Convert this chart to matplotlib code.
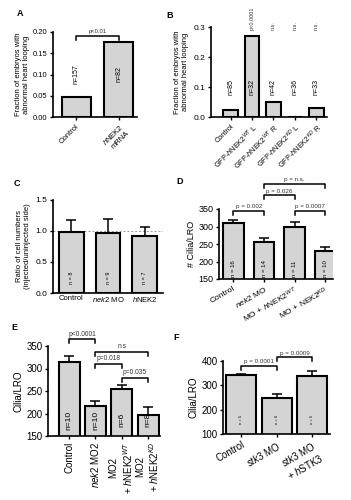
import numpy as np
import matplotlib.pyplot as plt

plt.rcParams['font.family'] = ['Liberation Sans', 'DejaVu Sans']
plt.rcParams['mathtext.fontset'] = 'custom'
plt.rcParams['mathtext.rm'] = 'Liberation Sans'
plt.rcParams['mathtext.it'] = 'Liberation Sans:italic'
plt.rcParams['mathtext.bf'] = 'Liberation Sans:bold'

# panel A
a_labels = ['Control', '$h$NEK2\nmRNA']
a_values = [0.046, 0.177]
a_n = ['n=157', 'n=82']
a_brackets = [(0, 1, 0.191, 'p<0.01')]

# panel B
b_labels = ['Control', 'GFP-$h$NEK2$^{WT}$ L', 'GFP-$h$NEK2$^{WT}$ R',
            'GFP-$h$NEK2$^{KD}$ L', 'GFP-$h$NEK2$^{KD}$ R']
b_values = [0.022, 0.270, 0.051, 0.0, 0.030]
b_n = ['n=85', 'n=32', 'n=42', 'n=36', 'n=33']
b_p = ['', 'p<0.0001', 'n.s.', 'n.s.', 'n.s.']

# panel C
c_labels = ['Control', '$nek2$ MO', '$h$NEK2']
c_values = [0.985, 0.967, 0.918]
c_err = [0.19, 0.22, 0.15]
c_n = ['n = 8', 'n = 9', 'n = 7']

# panel D
d_labels = ['Control', '$nek2$ MO', 'MO + $h$NEK2$^{WT}$', 'MO + NEK2$^{KD}$']
d_values = [310, 257, 300, 231]
d_err = [9, 10, 12, 11]
d_n = ['n = 16', 'n = 14', 'n = 11', 'n = 10']
d_brackets = [(0, 1, 345, 'p = 0.002'), (2, 3, 345, 'p = 0.0007'),
              (1, 2, 389, 'p = 0.026'), (1, 3, 422, 'p = n.s.')]

# panel E
e_labels = ['Control', '$nek2$ MO2', 'MO2\n+ $h$NEK2$^{WT}$', 'MO2\n+ $h$NEK2$^{KD}$']
e_values = [315, 216, 255, 196]
e_err = [13, 12, 8, 19]
e_n = ['n=10', 'n=10', 'n=6', 'n=8']
e_brackets = [(0, 1, 365, 'p<0.0001'), (1, 3, 337, 'n.s'),
              (1, 2, 310, 'p=0.018'), (2, 3, 280, 'p=0.035')]

# panel F
f_labels = ['Control', '$stk3$ MO', '$stk3$ MO\n+ $h$STK3']
f_values = [342, 249, 339]
f_err = [5, 17, 19]
f_n = ['n = 5', 'n = 6', 'n = 5']
f_brackets = [(0, 1, 380, 'p = 0.0001'), (1, 2, 416, 'p = 0.0009')]

BAR = '#d4d4d4'
W, H = 351, 500

fig = plt.figure(figsize=(W / 100, H / 100), dpi=100)


def px_axes(left, right, top, bottom):
    return fig.add_axes([left / W, 1 - bottom / H, (right - left) / W, (bottom - top) / H])


def style(ax, ts):
    for s in ['top', 'right']:
        ax.spines[s].set_visible(False)
    for s in ['left', 'bottom']:
        ax.spines[s].set_linewidth(1.2)
    ax.tick_params(axis='both', width=1.0, length=2.5, labelsize=ts, pad=1.5)


def bars(ax, vals, width, err=None):
    x = np.arange(len(vals))
    ax.bar(x, vals, width=width, color=BAR, edgecolor='black', linewidth=1.5, zorder=2)
    if err is not None:
        ax.errorbar(x, vals, yerr=[np.zeros(len(err)), err], fmt='none', ecolor='black',
                    elinewidth=1.1, capsize=3.5, capthick=1.1, zorder=1)
    return x


def brackets(ax, items, fs, drop_px=4):
    lo, hi = ax.get_ylim()
    hpx = ax.get_position().height * H
    drop = (hi - lo) / hpx * drop_px
    for i, j, y, txt in items:
        ax.plot([i, i, j, j], [y - drop, y, y, y - drop], color='black', lw=1.1,
                clip_on=False, zorder=3)
        ax.text((i + j) / 2, y + drop * 0.4, txt, ha='center', va='bottom', fontsize=fs,
                clip_on=False, color='#333333')


# ---- A
ax = px_axes(53, 137, 32, 117)
x = bars(ax, a_values, 0.68)
ax.set_xlim(-0.54, 1.43)
ax.set_ylim(0, 0.20)
ax.set_yticks([0.0, 0.05, 0.10, 0.15, 0.20])
ax.set_yticklabels(['0.00', '0.05', '0.10', '0.15', '0.20'])
style(ax, 5.5)
ax.set_xticks(x)
ax.set_xticklabels(a_labels, rotation=45, ha='right', rotation_mode='anchor', fontsize=5.5)
ax.set_ylabel('Fraction of embryos with\nabnormal heart looping', fontsize=5.5, labelpad=2)
for xi, t in zip(x, a_n):
    ax.text(xi, 0.10, t, rotation=90, ha='center', va='center', fontsize=5)
brackets(ax, a_brackets, 4.2)
fig.text(20 / W, 1 - 14 / H, 'A', fontsize=6.5, fontweight='bold', ha='center', va='center')

# ---- B
ax = px_axes(211, 327, 27, 117)
x = bars(ax, b_values, 0.69)
ax.set_xlim(-0.92, 4.5)
ax.set_ylim(0, 0.3)
ax.set_yticks([0.0, 0.1, 0.2, 0.3])
style(ax, 6)
ax.set_xticks(x)
ax.set_xticklabels(b_labels, rotation=45, ha='right', rotation_mode='anchor', fontsize=5.3)
ax.set_ylabel('Fraction of embryos with\nabnormal heart looping', fontsize=5.5, labelpad=3)
for xi, t in zip(x, b_n):
    ax.text(xi, 0.1, t, rotation=90, ha='center', va='center', fontsize=5)
for xi, t in zip(x, b_p):
    ax.text(xi, 0.29, t, rotation=90, ha='center', va='bottom', fontsize=4, clip_on=False,
            color='#333333')
fig.text(170 / W, 1 - 15 / H, 'B', fontsize=6.5, fontweight='bold', ha='center', va='center')

# ---- C
ax = px_axes(53, 163, 200, 293)
x = bars(ax, c_values, 0.68, c_err)
ax.axhline(1.0, color='#999999', lw=0.7, ls=(0, (2, 2)), zorder=0)
ax.set_xlim(-0.5, 2.5)
ax.set_ylim(0, 1.5)
ax.set_yticks([0.0, 0.5, 1.0, 1.5])
style(ax, 6)
ax.set_xticks(x)
ax.set_xticklabels(c_labels, fontsize=5.5)
ax.tick_params(axis='x', length=0)
ax.set_ylabel('Ratio of cell numbers\n(injected/uninjected side)', fontsize=5.5, labelpad=3)
for xi, t in zip(x, c_n):
    ax.text(xi, 0.25, t, rotation=90, ha='center', va='center', fontsize=4)
fig.text(17 / W, 1 - 183 / H, 'C', fontsize=6.5, fontweight='bold', ha='center', va='center')

# ---- D
ax = px_axes(219, 333, 209, 279)
x = bars(ax, d_values, 0.68, d_err)
ax.set_xlim(-0.47, 3.25)
ax.set_ylim(150, 350)
ax.set_yticks([150, 200, 250, 300, 350])
style(ax, 6.5)
ax.set_xticks(x)
ax.set_xticklabels(d_labels, rotation=30, ha='right', rotation_mode='anchor', fontsize=6)
ax.set_ylabel('# Cilia/LRO', fontsize=6.5, labelpad=2)
for xi, t in zip(x, d_n):
    ax.text(xi, 180, t, rotation=90, ha='center', va='center', fontsize=4.3)
brackets(ax, d_brackets, 4.5)
fig.text(180 / W, 1 - 181 / H, 'D', fontsize=6.5, fontweight='bold', ha='center', va='center')

# ---- E
ax = px_axes(48, 160, 346, 436)
x = bars(ax, e_values, 0.8, e_err)
ax.set_xlim(-0.8, 3.45)
ax.set_ylim(150, 350)
ax.set_yticks([150, 200, 250, 300, 350])
style(ax, 7)
ax.set_xticks(x)
ax.set_xticklabels(e_labels, rotation=90, fontsize=7, multialignment='center')
ax.set_ylabel('Cilia/LRO', fontsize=7, labelpad=2)
for xi, t in zip(x, e_n):
    ax.text(xi, 185, t, rotation=90, ha='center', va='center', fontsize=6)
brackets(ax, e_brackets, 4.8)
fig.text(14 / W, 1 - 328 / H, 'E', fontsize=6.5, fontweight='bold', ha='center', va='center')

# ---- F
ax = px_axes(223, 330, 361, 434)
x = bars(ax, f_values, 0.85, f_err)
ax.set_xlim(-0.52, 2.5)
ax.set_ylim(100, 400)
ax.set_yticks([100, 200, 300, 400])
style(ax, 7)
ax.set_xticks(x)
ax.set_xticklabels(f_labels, rotation=30, ha='right', rotation_mode='anchor', fontsize=7,
                   multialignment='center')
ax.set_ylabel('Cilia/LRO', fontsize=7, labelpad=2)
for xi, t in zip(x, f_n):
    ax.text(xi, 160, t, rotation=90, ha='center', va='center', fontsize=3)
brackets(ax, f_brackets, 4.5)
fig.text(176 / W, 1 - 337 / H, 'F', fontsize=6.5, fontweight='bold', ha='center', va='center')

fig.savefig('out.png', dpi=100)
